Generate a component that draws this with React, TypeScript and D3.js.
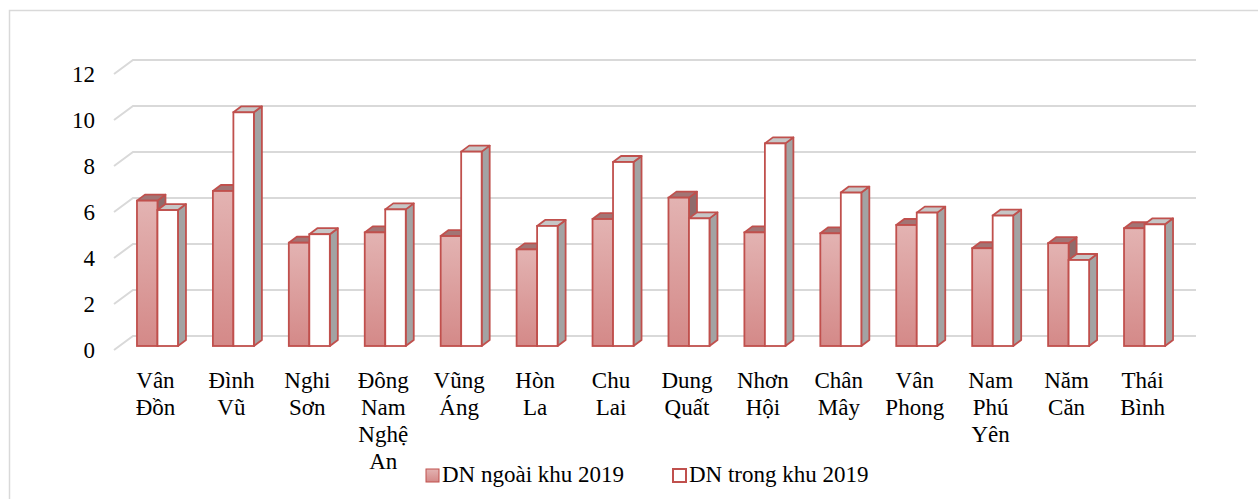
import React, { useRef, useEffect } from "react";
import * as d3 from "d3";

const categories = [
  "Vân Đồn",
  "Đình Vũ",
  "Nghi Sơn",
  "Đông Nam Nghệ An",
  "Vũng Áng",
  "Hòn La",
  "Chu Lai",
  "Dung Quất",
  "Nhơn Hội",
  "Chân Mây",
  "Vân Phong",
  "Nam Phú Yên",
  "Năm Căn",
  "Thái Bình",
];
// wrapped label lines as in the picture
const labelLines = [
  ["Vân", "Đồn"],
  ["Đình", "Vũ"],
  ["Nghi", "Sơn"],
  ["Đông", "Nam", "Nghệ", "An"],
  ["Vũng", "Áng"],
  ["Hòn", "La"],
  ["Chu", "Lai"],
  ["Dung", "Quất"],
  ["Nhơn", "Hội"],
  ["Chân", "Mây"],
  ["Vân", "Phong"],
  ["Nam", "Phú", "Yên"],
  ["Năm", "Căn"],
  ["Thái", "Bình"],
];
const outsideZone = [6.32, 6.74, 4.49, 4.94, 4.78, 4.2, 5.52, 6.45, 4.94, 4.9, 5.26, 4.25, 4.47, 5.12];
const insideZone = [5.91, 10.16, 4.86, 5.94, 8.45, 5.22, 8.0, 5.55, 8.81, 6.67, 5.8, 5.67, 3.74, 5.29];
const seriesNames = ["DN ngoài khu 2019", "DN trong khu 2019"];
const yTicks = [0, 2, 4, 6, 8, 10, 12];

const W = 1258;
const H = 499;
const FONT = "'Liberation Serif', Tinos, 'Nimbus Roman', 'Nimbus Roman No9 L', FreeSerif, 'Noto Serif', 'DejaVu Serif', serif";
const RED = "#c0504d";
const GRID = "#d9d9d9";

export default function App() {
  const svgRef = useRef<SVGSVGElement>(null);

  useEffect(() => {
    if (!svgRef.current) return;
    const svg = d3.select(svgRef.current);
    svg.selectAll("*").remove();

    const defs = svg.append("defs");
    const grad = defs
      .append("linearGradient")
      .attr("id", "pinkGrad")
      .attr("x1", 0)
      .attr("y1", 0)
      .attr("x2", 0)
      .attr("y2", 1);
    grad.append("stop").attr("offset", "0%").attr("stop-color", "#e3b3b2");
    grad.append("stop").attr("offset", "100%").attr("stop-color", "#d48988");

    // outer frame
    svg
      .append("rect")
      .attr("x", 9.5)
      .attr("y", 10.5)
      .attr("width", W + 20)
      .attr("height", H + 20)
      .attr("fill", "#fff")
      .attr("stroke", GRID)
      .attr("stroke-width", 1.5);

    // perspective offsets
    const depthDx = 19;
    const depthDy = -14;
    const barDx = 8;
    const barDy = -6;

    const yFront = d3.scaleLinear().domain([0, 12]).range([350, 74]);
    const yBar = d3.scaleLinear().domain([0, 12]).range([346, 70]);

    const x0 = d3
      .scaleBand<string>()
      .domain(categories)
      .range([119.5, 1182.5])
      .paddingInner(0.46)
      .paddingOuter(0.23);
    const x1 = d3
      .scaleBand<string>()
      .domain(seriesNames)
      .range([0, x0.bandwidth()]);

    // gridlines
    const grid = svg.append("g");
    yTicks.forEach((t) => {
      const yf = yFront(t);
      grid
        .append("path")
        .attr(
          "d",
          `M114,${yf}L${114 + depthDx},${yf + depthDy}L1196,${yf + depthDy}`
        )
        .attr("fill", "none")
        .attr("stroke", GRID)
        .attr("stroke-width", 2);
    });

    // y labels
    svg
      .append("g")
      .selectAll("text")
      .data(yTicks)
      .join("text")
      .attr("x", 95)
      .attr("y", (d) => yFront(d))
      .attr("dy", "0.35em")
      .attr("text-anchor", "end")
      .style("font-family", FONT)
      .attr("font-size", 23)
      .attr("fill", "#000")
      .text((d) => d);

    const drawBar = (
      g: d3.Selection<SVGGElement, unknown, null, undefined>,
      x: number,
      v: number,
      front: string,
      top: string,
      side: string
    ) => {
      const w = x1.bandwidth();
      const yb = yBar(0);
      const yt = yBar(v);
      // side face
      g.append("path")
        .attr(
          "d",
          `M${x + w},${yb}L${x + w + barDx},${yb + barDy}L${x + w + barDx},${yt + barDy}L${x + w},${yt}Z`
        )
        .attr("fill", side)
        .attr("stroke", RED)
        .attr("stroke-width", 1.8)
        .attr("stroke-linejoin", "round");
      // top face
      g.append("path")
        .attr(
          "d",
          `M${x},${yt}L${x + barDx},${yt + barDy}L${x + w + barDx},${yt + barDy}L${x + w},${yt}Z`
        )
        .attr("fill", top)
        .attr("stroke", RED)
        .attr("stroke-width", 1.8)
        .attr("stroke-linejoin", "round");
      // front face
      g.append("rect")
        .attr("x", x)
        .attr("y", yt)
        .attr("width", w)
        .attr("height", yb - yt)
        .attr("fill", front)
        .attr("stroke", RED)
        .attr("stroke-width", 1.8);
    };

    const bars = svg.append("g");
    categories.forEach((c, i) => {
      const bx = x0(c) as number;
      drawBar(bars, bx + (x1(seriesNames[0]) as number), outsideZone[i], "url(#pinkGrad)", "#a27575", "#8f6b6b");
      drawBar(bars, bx + (x1(seriesNames[1]) as number), insideZone[i], "#ffffff", "#c6c6c6", "#a3a3a3");
    });

    // category labels
    const lab = svg.append("g");
    categories.forEach((c, i) => {
      const cx = (x0(c) as number) + x0.bandwidth() / 2 - 2;
      const t = lab
        .append("text")
        .attr("text-anchor", "middle")
        .style("font-family", FONT)
        .attr("font-size", 23)
        .attr("fill", "#000");
      labelLines[i].forEach((line, j) => {
        t.append("tspan")
          .attr("x", cx)
          .attr("y", 388 + j * 27)
          .text(line);
      });
    });

    // legend
    const legend = svg.append("g");
    const legendX = [425, 672];
    seriesNames.forEach((s, i) => {
      legend
        .append("rect")
        .attr("x", legendX[i] + 1)
        .attr("y", 469)
        .attr("width", 13)
        .attr("height", 13)
        .attr("fill", i === 0 ? "url(#pinkGrad)" : "#fff")
        .attr("stroke", RED)
        .attr("stroke-width", i === 0 ? 1 : 2);
      legend
        .append("text")
        .attr("x", legendX[i] + 17)
        .attr("y", 482)
        .style("font-family", FONT)
        .attr("font-size", 23)
        .attr("fill", "#000")
        .text(s);
    });
  }, []);

  return (
    <div style={{ position: "absolute", left: 0, top: 0 }}>
      <svg ref={svgRef} width={W} height={H} style={{ display: "block" }} />
    </div>
  );
}
